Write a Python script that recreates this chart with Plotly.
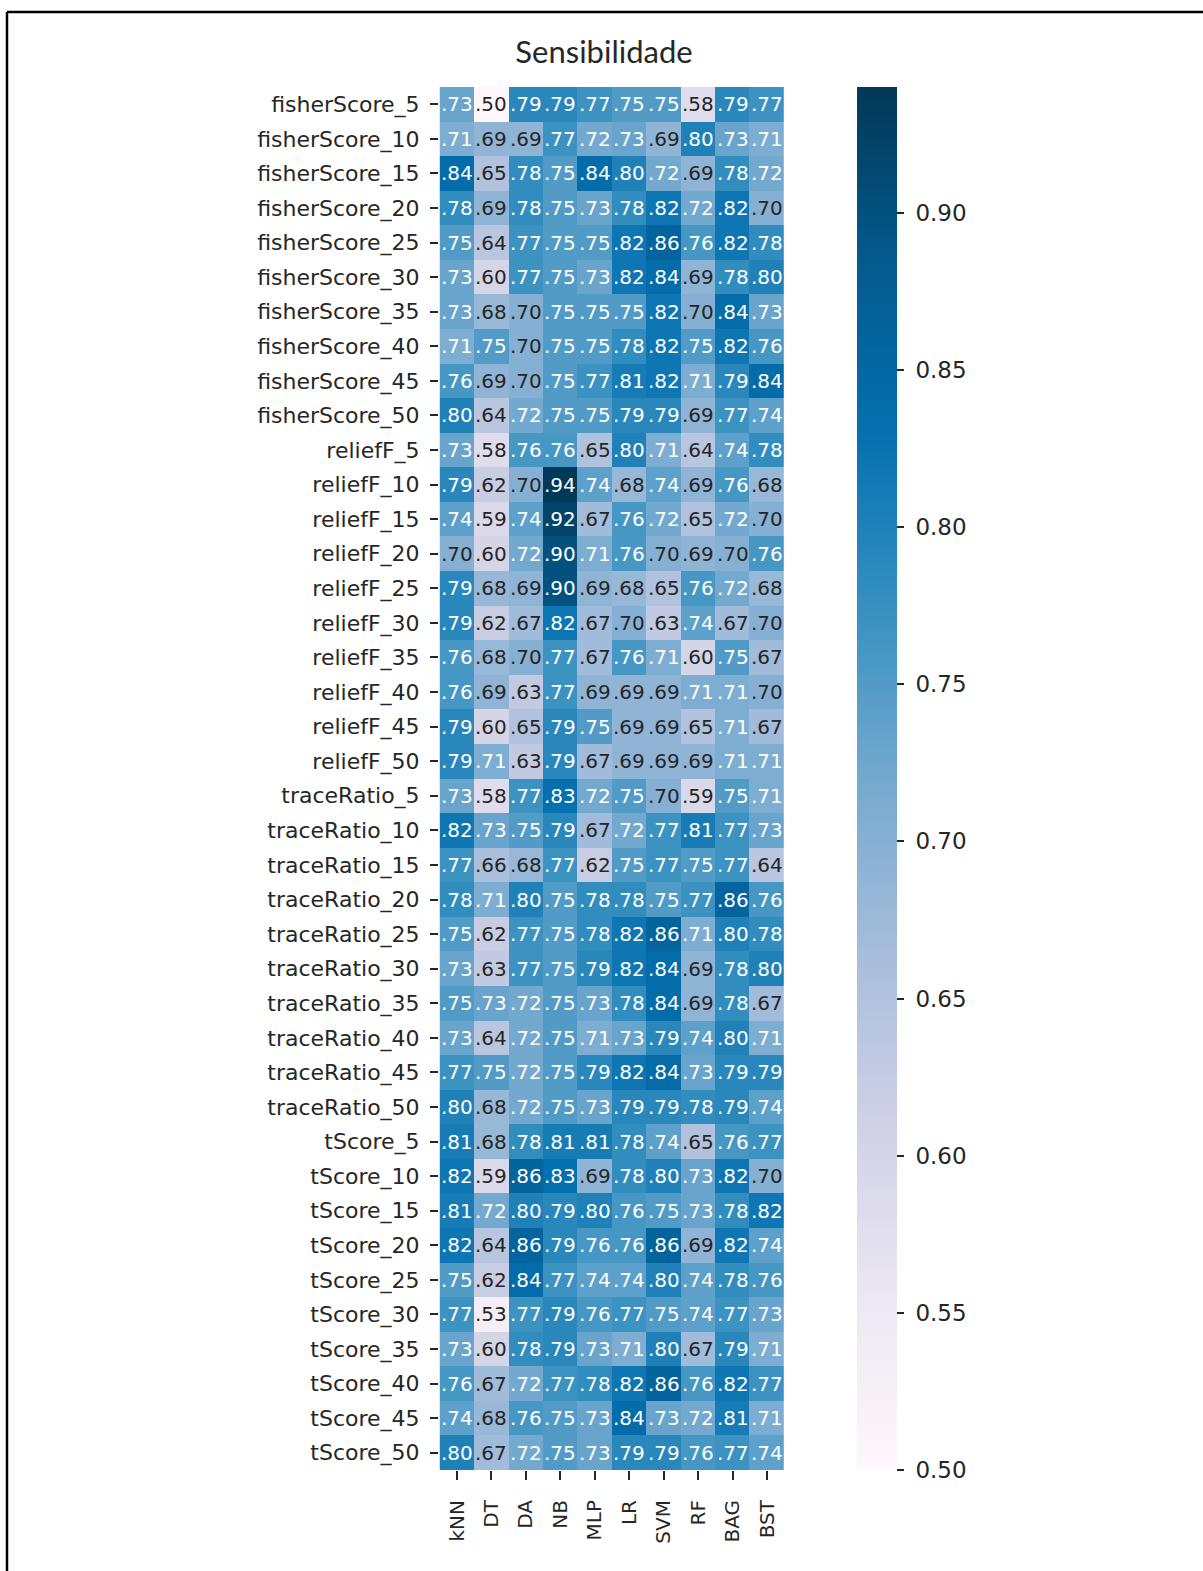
import plotly.graph_objects as go

# Classifiers (columns) and feature-selection configurations (rows)
classifiers = ["kNN", "DT", "DA", "NB", "MLP", "LR", "SVM", "RF", "BAG", "BST"]
selectors = ["fisherScore", "reliefF", "traceRatio", "tScore"]
n_features = [5, 10, 15, 20, 25, 30, 35, 40, 45, 50]
row_labels = [f"{sel}_{n}" for sel in selectors for n in n_features]

# Colour bar tick values
cbar_ticks = [0.50, 0.55, 0.60, 0.65, 0.70, 0.75, 0.80, 0.85, 0.90]

# Sensitivity per configuration, one row per number of selected features
fisher_score = [
    [.73, .50, .79, .79, .77, .75, .75, .58, .79, .77],
    [.71, .69, .69, .77, .72, .73, .69, .80, .73, .71],
    [.84, .65, .78, .75, .84, .80, .72, .69, .78, .72],
    [.78, .69, .78, .75, .73, .78, .82, .72, .82, .70],
    [.75, .64, .77, .75, .75, .82, .86, .76, .82, .78],
    [.73, .60, .77, .75, .73, .82, .84, .69, .78, .80],
    [.73, .68, .70, .75, .75, .75, .82, .70, .84, .73],
    [.71, .75, .70, .75, .75, .78, .82, .75, .82, .76],
    [.76, .69, .70, .75, .77, .81, .82, .71, .79, .84],
    [.80, .64, .72, .75, .75, .79, .79, .69, .77, .74],
]
relief_f = [
    [.73, .58, .76, .76, .65, .80, .71, .64, .74, .78],
    [.79, .62, .70, .94, .74, .68, .74, .69, .76, .68],
    [.74, .59, .74, .92, .67, .76, .72, .65, .72, .70],
    [.70, .60, .72, .90, .71, .76, .70, .69, .70, .76],
    [.79, .68, .69, .90, .69, .68, .65, .76, .72, .68],
    [.79, .62, .67, .82, .67, .70, .63, .74, .67, .70],
    [.76, .68, .70, .77, .67, .76, .71, .60, .75, .67],
    [.76, .69, .63, .77, .69, .69, .69, .71, .71, .70],
    [.79, .60, .65, .79, .75, .69, .69, .65, .71, .67],
    [.79, .71, .63, .79, .67, .69, .69, .69, .71, .71],
]
trace_ratio = [
    [.73, .58, .77, .83, .72, .75, .70, .59, .75, .71],
    [.82, .73, .75, .79, .67, .72, .77, .81, .77, .73],
    [.77, .66, .68, .77, .62, .75, .77, .75, .77, .64],
    [.78, .71, .80, .75, .78, .78, .75, .77, .86, .76],
    [.75, .62, .77, .75, .78, .82, .86, .71, .80, .78],
    [.73, .63, .77, .75, .79, .82, .84, .69, .78, .80],
    [.75, .73, .72, .75, .73, .78, .84, .69, .78, .67],
    [.73, .64, .72, .75, .71, .73, .79, .74, .80, .71],
    [.77, .75, .72, .75, .79, .82, .84, .73, .79, .79],
    [.80, .68, .72, .75, .73, .79, .79, .78, .79, .74],
]
t_score = [
    [.81, .68, .78, .81, .81, .78, .74, .65, .76, .77],
    [.82, .59, .86, .83, .69, .78, .80, .73, .82, .70],
    [.81, .72, .80, .79, .80, .76, .75, .73, .78, .82],
    [.82, .64, .86, .79, .76, .76, .86, .69, .82, .74],
    [.75, .62, .84, .77, .74, .74, .80, .74, .78, .76],
    [.77, .53, .77, .79, .76, .77, .75, .74, .77, .73],
    [.73, .60, .78, .79, .73, .71, .80, .67, .79, .71],
    [.76, .67, .72, .77, .78, .82, .86, .76, .82, .77],
    [.74, .68, .76, .75, .73, .84, .73, .72, .81, .71],
    [.80, .67, .72, .75, .73, .79, .79, .76, .77, .74],
]

z = fisher_score + relief_f + trace_ratio + t_score
zmin, zmax = 0.50, 0.94

# PuBu sequential palette
pubu = [(255, 247, 251), (236, 231, 242), (208, 209, 230), (166, 189, 219),
        (116, 169, 207), (54, 144, 192), (5, 112, 176), (4, 90, 141), (2, 56, 88)]
colorscale = [[i / (len(pubu) - 1), f"rgb{c}"] for i, c in enumerate(pubu)]


def cell_rgb(v):
    t = min(max((v - zmin) / (zmax - zmin), 0.0), 1.0) * (len(pubu) - 1)
    k = min(int(t), len(pubu) - 2)
    f = t - k
    a, b = pubu[k], pubu[k + 1]
    return [a[i] + (b[i] - a[i]) * f for i in range(3)]


def luminance(rgb):
    lin = []
    for c in rgb:
        c = c / 255.0
        lin.append(c / 12.92 if c <= 0.03928 else ((c + 0.055) / 1.055) ** 2.4)
    return 0.2126 * lin[0] + 0.7152 * lin[1] + 0.0722 * lin[2]


# Figure geometry (pixels)
W, H = 1203, 1571
L, R, T, B = 439, W - 785, 87, H - 1470
pw, ph = W - L - R, H - T - B


def px_x(x):
    return (x - L) / pw


def px_y(y):
    return (H - B - y) / ph


fig = go.Figure(go.Heatmap(
    z=z, x=classifiers, y=row_labels,
    zmin=zmin, zmax=zmax, colorscale=colorscale,
    hoverongaps=False,
    colorbar=dict(
        x=px_x(857), xanchor="left", xpad=0,
        y=0.5, yanchor="middle", ypad=0,
        len=1.0, lenmode="fraction",
        thickness=40, outlinewidth=0,
        tickmode="array", tickvals=cbar_ticks,
        ticktext=[f"&nbsp;{v:.2f}" for v in cbar_ticks],
        ticks="outside", ticklen=7, tickwidth=1.5, tickcolor="#262626",
        tickfont=dict(family="DejaVu Sans", size=23, color="#262626"),
    ),
))

annotations = []
for i, row in enumerate(z):
    for j, v in enumerate(row):
        color = "#262626" if luminance(cell_rgb(v)) > 0.408 else "#ffffff"
        annotations.append(dict(
            x=classifiers[j], y=row_labels[i], xref="x", yref="y",
            text=f"{v:.2f}".lstrip("0"), showarrow=False,
            font=dict(family="DejaVu Sans", size=20, color=color),
        ))

fig.update_layout(
    width=W, height=H,
    margin=dict(l=L, r=R, t=T, b=B, pad=0),
    paper_bgcolor="white", plot_bgcolor="white",
    title=dict(text="Sensibilidade", x=604 / W, xanchor="center", xref="container",
               y=1 - 52 / H, yanchor="middle",
               font=dict(family="Lato", size=31, color="#262626")),
    annotations=annotations,
    xaxis=dict(
        type="category", tickangle=-90, ticks="outside", ticklen=9, tickwidth=1.5,
        tickcolor="#262626", showgrid=False, zeroline=False, showline=False,
        ticklabelstandoff=12,
        tickfont=dict(family="DejaVu Sans", size=20, color="#262626"),
    ),
    yaxis=dict(
        type="category", autorange="reversed", ticks="outside", ticklen=8, tickwidth=1.5,
        tickcolor="#262626", showgrid=False, zeroline=False, showline=False,
        ticklabelstandoff=6,
        tickfont=dict(family="DejaVu Sans", size=22, color="#262626"),
    ),
    shapes=[
        dict(type="line", xref="paper", yref="paper",
             x0=px_x(7), x1=px_x(W + 5), y0=px_y(12), y1=px_y(12),
             line=dict(color="black", width=2.5)),
        dict(type="line", xref="paper", yref="paper",
             x0=px_x(7), x1=px_x(7), y0=px_y(12), y1=px_y(H + 5),
             line=dict(color="black", width=2.5)),
    ],
)

fig.write_html("out.html")
